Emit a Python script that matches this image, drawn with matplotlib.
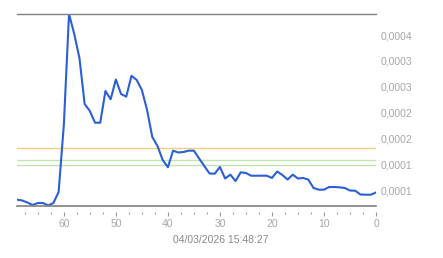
import numpy as np
import matplotlib
matplotlib.use('Agg')
import matplotlib.pyplot as plt
from matplotlib.ticker import MultipleLocator, FuncFormatter

# ── Data (x = minutes ago, values in units) ─────────────────
minutes = list(range(69, -1, -1))
values_e6 = [
    31.2, 29.7, 25.8, 20.9, 24.8, 24.8, 20.0, 24.8, 46.1, 176.0,
    391.1, 352.3, 305.8, 216.7, 203.1, 180.4, 180.4, 241.9, 225.8, 264.1,
    236.0, 230.8, 271.3, 263.2, 243.8, 205.0, 152.7, 135.3, 108.1, 94.0,
    126.2, 122.7, 123.6, 126.2, 126.2, 111.0, 96.5, 82.0, 81.6, 94.6,
    72.3, 79.7, 67.4, 84.3, 82.9, 77.7, 77.7, 77.7, 77.7, 73.3,
    85.9, 79.1, 70.3, 79.7, 72.3, 73.3, 70.0, 53.9, 50.6, 50.6,
    55.8, 55.8, 55.2, 53.9, 49.0, 48.6, 41.3, 40.9, 40.9, 45.2,
]
values = np.array(values_e6) * 1e-6

ref_orange = 130.8e-6
ref_green = [108.7e-6, 97.9e-6]
title = '04/03/2026 15:48:27'

plt.rcParams.update({
    'font.family': ['Liberation Sans', 'DejaVu Sans'],
    'font.size': 7.5,
})

fig = plt.figure(figsize=(4.43, 2.58), dpi=100)
ax = fig.add_axes([17 / 443, 52 / 258, 359 / 443, 192 / 258])

ax.axhline(ref_orange, color='#f2d080', lw=1)
for g in ref_green:
    ax.axhline(g, color='#c2e4b2', lw=1)
ax.plot(minutes, values, color='#2a5fd6', lw=1.5, solid_joinstyle='round')

ax.set_xlim(69, 0)
ax.set_ylim(19e-6, 391e-6)

# spines: only top and a detached bottom axis
for s in ['left', 'right']:
    ax.spines[s].set_visible(False)
ax.spines['top'].set_color('#808080')
ax.spines['top'].set_linewidth(1)
ax.spines['bottom'].set_position(('outward', 4))
ax.spines['bottom'].set_visible(False)
ax.axhline(19e-6, color='#808080', lw=1.2, clip_on=False)

ax.xaxis.set_major_locator(MultipleLocator(10))
ax.xaxis.set_minor_locator(MultipleLocator(2.5))
ax.tick_params(axis='x', which='major', length=3, width=0.8,
               color='#999999', labelcolor='#a6a6a6', pad=2.5, labelsize=7.5)
ax.tick_params(axis='x', which='minor', length=1.5, width=0.8, color='#999999')

ax.yaxis.tick_right()
ax.yaxis.set_major_locator(MultipleLocator(5e-5))
ax.yaxis.set_major_formatter(FuncFormatter(
    lambda v, p: f'{v + 1e-12:.4f}'.replace('.', ',')))
ax.tick_params(axis='y', length=0, pad=3, labelcolor='#a6a6a6', labelsize=7.5)

fig.text(221 / 443, 1 - 240 / 258, title, ha='center', va='center',
         color='#888888', fontsize=7.5)

fig.savefig('out.png', dpi=100)
